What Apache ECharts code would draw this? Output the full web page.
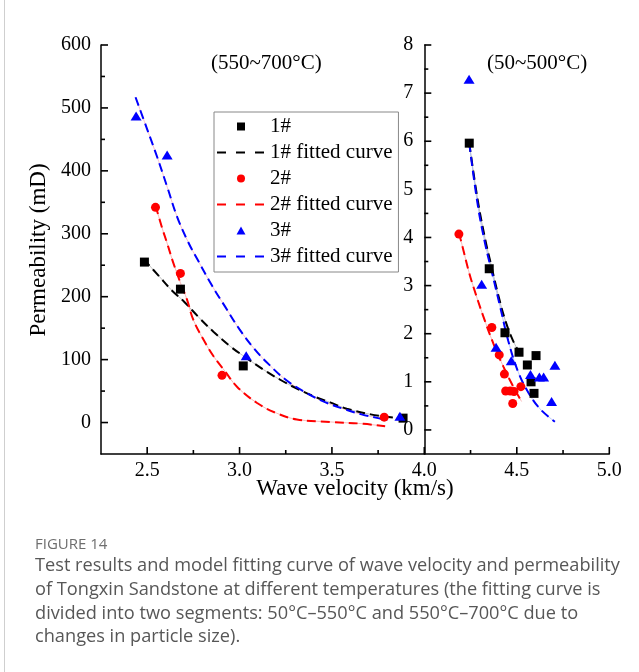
<!DOCTYPE html>
<html>
<head>
<meta charset="utf-8">
<script src="https://cdn.jsdelivr.net/npm/echarts@6/dist/echarts.min.js"></script>
<style>
html,body{margin:0;padding:0;background:#fff;}
#c{width:639px;height:672px;}
</style>
</head>
<body>
<div id="c"></div>
<script>
// ---- Data ----
// Left panel (550~700°C), permeability in mD
const s1L_x = [2.485, 2.68, 3.02, 3.885];
const s1L_y = [255, 212, 90, 7];
const s2L_x = [2.545, 2.68, 2.905, 3.783];
const s2L_y = [342, 237, 75, 8.5];
const s3L_x = [2.44, 2.608, 3.036, 3.868];
const s3L_y = [487, 425, 106, 10];

const f1L_x = [2.48, 2.56, 2.63, 2.7, 2.78, 2.86, 2.95, 3.04, 3.13, 3.22, 3.31, 3.4, 3.49, 3.58, 3.71, 3.83];
const f1L_y = [260, 234, 211, 192, 167, 144, 121, 102, 84, 68, 54, 42, 32, 22, 13, 8];
const f2L_x = [2.545, 2.58, 2.608, 2.64, 2.68, 2.716, 2.75, 2.806, 2.86, 2.92, 2.986, 3.095, 3.2, 3.31, 3.49, 3.67, 3.788];
const f2L_y = [345, 310, 285, 255, 222, 195, 163, 131, 105, 82, 57, 31, 15, 5, 1, -2, -6];
const f3L_x = [2.437, 2.5, 2.554, 2.61, 2.662, 2.72, 2.78, 2.85, 2.92, 3.0, 3.08, 3.16, 3.25, 3.35, 3.45, 3.56, 3.66, 3.75, 3.8];
const f3L_y = [517, 466, 422, 373, 327, 288, 255, 218, 185, 148, 117, 92, 68, 49, 34, 22, 13, 7, 4];

// Right panel (50~500°C)
const s1R_x = [4.243, 4.351, 4.436, 4.512, 4.557, 4.604, 4.577, 4.593];
const s1R_y = [5.96, 3.35, 2.02, 1.615, 1.35, 1.545, 1.0, 0.76];
const s2R_x = [4.187, 4.365, 4.405, 4.433, 4.44, 4.464, 4.485, 4.522, 4.478];
const s2R_y = [4.07, 2.13, 1.56, 1.16, 0.81, 0.81, 0.8, 0.9, 0.55];
const s3R_x = [4.242, 4.31, 4.388, 4.47, 4.574, 4.622, 4.645, 4.706, 4.688];
const s3R_y = [7.29, 3.03, 1.72, 1.44, 1.15, 1.1, 1.1, 1.345, 0.59];

const f1R_x = [4.243, 4.29, 4.33, 4.36, 4.40, 4.44, 4.48, 4.51];
const f1R_y = [5.96, 4.75, 3.95, 3.45, 2.8, 2.25, 1.85, 1.64];
const f2R_x = [4.187, 4.211, 4.238, 4.265, 4.319, 4.373, 4.427, 4.481, 4.526];
const f2R_y = [4.1, 3.74, 3.33, 2.98, 2.36, 1.80, 1.32, 0.9, 0.59];
const f3R_x = [4.243, 4.29, 4.33, 4.364, 4.41, 4.454, 4.508, 4.562, 4.625, 4.706];
const f3R_y = [5.96, 4.65, 3.85, 3.3, 2.56, 1.85, 1.2, 0.78, 0.44, 0.17];

// Axis ranges and tick values
const xRangeL = [2.25, 4.0];
const xRangeR = [4.0, 5.0];
const yRangeL = [-50, 600];
const yRangeR = [-0.5, 8];
const xLabelsL = [2.5, 3.0, 3.5];
const xMinorL = [2.75, 3.25, 3.75];
const xLabelsR = [4.0, 4.5, 5.0];
const xMinorR = [4.25, 4.75];
const yLabelsL = [0, 100, 200, 300, 400, 500, 600];
const yMinorL = [50, 150, 250, 350, 450, 550];
const yLabelsR = [0, 1, 2, 3, 4, 5, 6, 7, 8];
const yMinorR = [0.5, 1.5, 2.5, 3.5, 4.5, 5.5, 6.5, 7.5];

const seriesNames = ['1#', '1# fitted curve', '2#', '2# fitted curve', '3#', '3# fitted curve'];
const annotL = '(550~700°C)';
const annotR = '(50~500°C)';
const xTitle = 'Wave velocity (km/s)';
const yTitle = 'Permeability (mD)';
const figLabel = 'FIGURE 14';
const captionLines = [
  'Test results and model fitting curve of wave velocity and permeability',
  'of Tongxin Sandstone at different temperatures (the fitting curve is',
  'divided into two segments: 50°C\u2013550°C and 550°C\u2013700°C due to',
  'changes in particle size).'
];

// ---- Build chart ----
const zip = (xs, ys) => xs.map((x, i) => [x, ys[i]]);
const SERIF = '"Liberation Serif", "Times New Roman", serif';
const SANS = '"Open Sans", "Noto Sans", sans-serif';

const G0 = {left: 101, top: 45, width: 323.3, height: 409};
const G1 = {left: 424.3, top: 45, width: 185, height: 409};

function mainX(grid, range, labels) {
  return {
    type: 'value', gridIndex: grid, min: range[0], max: range[1],
    axisLine: {show: true, onZero: false, lineStyle: {color: '#000', width: 1.5}},
    axisTick: {show: false},
    axisLabel: {show: true, customValues: labels, margin: 7, color: '#000', fontFamily: SERIF, fontSize: 20,
      formatter: v => Number(v).toFixed(1)},
    splitLine: {show: false}
  };
}
function mainY(grid, range, labels, margin) {
  return {
    type: 'value', gridIndex: grid, min: range[0], max: range[1],
    axisLine: {show: true, onZero: false, lineStyle: {color: '#000', width: 1.5}},
    axisTick: {show: false},
    axisLabel: {show: true, customValues: labels, margin: margin, color: '#000', fontFamily: SERIF, fontSize: 20},
    splitLine: {show: false}
  };
}

// Inside ticks placed through the axes' own scales (thin rect symbols)
function tickSeries(ax, dir, len, data) {
  return {
    type: 'scatter', xAxisIndex: ax, yAxisIndex: ax, silent: true, z: 10, clip: false,
    symbol: 'rect',
    symbolSize: dir === 'x' ? [1.6, len] : [len, 1.6],
    symbolOffset: dir === 'x' ? [0, -len / 2] : [len / 2, 0],
    itemStyle: {color: '#000', opacity: 1},
    emphasis: {disabled: true},
    data: data
  };
}

const colors = ['#000000', '#ff0000', '#0000ff'];
const underColorsL = ['#b0b0b0', '#f6a8a8', '#f6b0c0'];
const underColorsR = ['#b0b0b0', '#f6a8a8', '#a8b8f6'];
const symbols = ['rect', 'circle', 'triangle'];
const symSizes = [9, 9, [11, 9]];
const legendIcons = [
  'path://M0,0L10,0L10,10L0,10Z',
  'path://M5,0A5,5,0,1,1,4.99,0Z',
  'path://M5,0L10,9L0,9Z'
];

const scatL = [[s1L_x, s1L_y], [s2L_x, s2L_y], [s3L_x, s3L_y]];
const scatR = [[s1R_x, s1R_y], [s2R_x, s2R_y], [s3R_x, s3R_y]];
const fitL = [[f1L_x, f1L_y], [f2L_x, f2L_y], [f3L_x, f3L_y]];
const fitR = [[f1R_x, f1R_y], [f2R_x, f2R_y], [f3R_x, f3R_y]];

const series = [];
for (let k = 0; k < 3; k++) {
  [[fitL, 0, underColorsL], [fitR, 1, underColorsR]].forEach(([fits, ax, uc]) => {
    series.push({
      type: 'line', name: '_u' + k + ax, xAxisIndex: ax, yAxisIndex: ax, smooth: 0.4,
      symbol: 'none', silent: true, z: 1,
      data: zip(fits[k][0], fits[k][1]),
      lineStyle: {color: uc[k], width: 0.8, type: 'solid'}
    });
    series.push({
      type: 'line', name: seriesNames[2 * k + 1], xAxisIndex: ax, yAxisIndex: ax, smooth: 0.4,
      symbol: 'none', z: 2,
      data: zip(fits[k][0], fits[k][1]),
      itemStyle: {color: colors[k]},
      lineStyle: {color: colors[k], width: 2, type: [9, 5]}
    });
  });
  [[scatL, 0], [scatR, 1]].forEach(([sc, ax]) => {
    series.push({
      type: 'scatter', name: seriesNames[2 * k], xAxisIndex: ax, yAxisIndex: ax,
      symbol: symbols[k], symbolSize: symSizes[k], z: 3,
      data: zip(sc[k][0], sc[k][1]),
      itemStyle: {color: colors[k], opacity: 1}
    });
  });
}
// ticks: major 7px, minor 4px, pointing inside
series.push(tickSeries(0, 'x', 7, xLabelsL.map(v => [v, yRangeL[0]])));
series.push(tickSeries(0, 'x', 4, xMinorL.map(v => [v, yRangeL[0]])));
series.push(tickSeries(1, 'x', 7, xLabelsR.map(v => [v, yRangeR[0]])));
series.push(tickSeries(1, 'x', 4, xMinorR.map(v => [v, yRangeR[0]])));
series.push(tickSeries(0, 'y', 7, yLabelsL.map(v => [xRangeL[0], v])));
series.push(tickSeries(0, 'y', 4, yMinorL.map(v => [xRangeL[0], v])));
series.push(tickSeries(1, 'y', 7, yLabelsR.map(v => [xRangeR[0], v])));
series.push(tickSeries(1, 'y', 4, yMinorR.map(v => [xRangeR[0], v])));

const legendData = seriesNames.map((n, i) => i % 2 === 0
  ? {name: n, icon: legendIcons[i / 2]}
  : {name: n, itemStyle: {opacity: 0}});

const graphic = [
  {type: 'line', shape: {x1: 4.5, y1: 0, x2: 4.5, y2: 672}, style: {stroke: '#cfcfcf', lineWidth: 1}},
  {type: 'text', x: 211, y: 63, style: {text: annotL, font: '21px ' + SERIF, fill: '#000', textVerticalAlign: 'middle'}},
  {type: 'text', x: 487, y: 63, style: {text: annotR, font: '21px ' + SERIF, fill: '#000', textVerticalAlign: 'middle'}},
  {type: 'text', x: 355, y: 489, style: {text: xTitle, font: '23px ' + SERIF, fill: '#000', textAlign: 'center', textVerticalAlign: 'middle'}},
  {type: 'text', x: 39, y: 250, rotation: Math.PI / 2, style: {text: yTitle, font: '23px ' + SERIF, fill: '#000', textAlign: 'center', textVerticalAlign: 'middle'}},
  {type: 'text', x: 35, y: 545, style: {text: figLabel, font: '15px ' + SANS, fill: '#6e6e6e', textVerticalAlign: 'middle'}}
];
captionLines.forEach((t, i) => {
  graphic.push({type: 'text', x: 35, y: 566 + i * 23.7, style: {text: t, font: '18.2px ' + SANS, fill: '#575757', textVerticalAlign: 'middle'}});
});

const option = {
  backgroundColor: '#fff',
  animation: false,
  grid: [
    {left: G0.left, top: G0.top, width: G0.width, height: G0.height},
    {left: G1.left, top: G1.top, width: G1.width, height: G1.height}
  ],
  xAxis: [mainX(0, xRangeL, xLabelsL), mainX(1, xRangeR, xLabelsR)],
  yAxis: [mainY(0, yRangeL, yLabelsL, 10), mainY(1, yRangeR, yLabelsR, 11)],
  legend: {
    data: legendData,
    orient: 'vertical', left: 214, top: 112,
    itemWidth: 48, itemHeight: 8, itemGap: 5,
    padding: [4, 6, 5, 2],
    borderColor: '#888', borderWidth: 1, borderRadius: 0,
    textStyle: {fontFamily: SERIF, fontSize: 21, color: '#000', lineHeight: 21},
    lineStyle: {type: [9, 10], width: 2},
    selectedMode: false
  },
  series: series,
  graphic: graphic
};

const chart = echarts.init(document.getElementById('c'), null, {renderer: 'canvas'});
chart.setOption(option);
</script>
</body>
</html>
